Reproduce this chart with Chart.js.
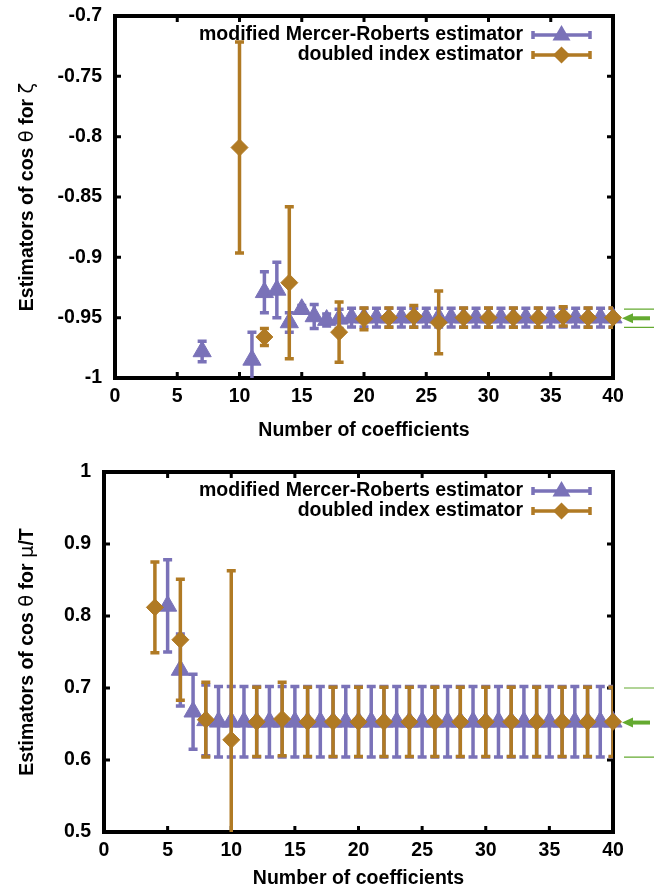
<!DOCTYPE html>
<html>
<head>
<meta charset="utf-8">
<script src="https://cdn.jsdelivr.net/npm/chart.js@4.4.1/dist/chart.umd.min.js"></script>
<style>
  body { margin: 0; background: #ffffff; }
  .panel { width: 654px; height: 445px; }
</style>
</head>
<body>
<div class="panel"><canvas id="zeta-chart" width="654" height="445"></canvas></div>
<div class="panel"><canvas id="mu-chart" width="654" height="445"></canvas></div>
<script>
// upper panel: estimators of cos(theta) for zeta
const zetaMrX = [7, 11, 12, 13, 14, 15, 16, 17, 18, 19, 20, 21, 22, 23, 24, 25, 26, 27, 28, 29, 30, 31, 32, 33, 34, 35, 36, 37, 38, 39, 40];
const zetaMrY = [-0.978, -0.985, -0.929, -0.927, -0.954, -0.943, -0.949, -0.952, -0.951, -0.950,
  -0.950, -0.950, -0.950, -0.950, -0.950, -0.950, -0.950, -0.950, -0.950, -0.950,
  -0.950, -0.950, -0.950, -0.950, -0.950, -0.950, -0.950, -0.950, -0.950, -0.950, -0.950];
const zetaMrErr = [0.0085, 0.023, 0.017, 0.023, 0.008, 0.003, 0.010, 0.005, 0.008, 0.0078,
  0.0078, 0.0078, 0.0078, 0.0078, 0.0078, 0.0078, 0.0078, 0.0078, 0.0078, 0.0078,
  0.0078, 0.0078, 0.0078, 0.0078, 0.0078, 0.0078, 0.0078, 0.0078, 0.0078, 0.0078, 0.0078];
const zetaDiX = [10, 12, 14, 18, 20, 22, 24, 26, 28, 30, 32, 34, 36, 38, 40];
const zetaDiY = [-0.809, -0.966, -0.921, -0.962, -0.951, -0.950, -0.949, -0.954, -0.950, -0.950, -0.950, -0.950, -0.949, -0.950, -0.950];
const zetaDiErr = [0.0875, 0.007, 0.063, 0.025, 0.009, 0.008, 0.009, 0.026, 0.008, 0.008, 0.008, 0.008, 0.008, 0.008, 0.008];
const zetaRef = [-0.958, -0.9505, -0.943]; // low, value, high
const zetaYTicks = [-1, -0.95, -0.9, -0.85, -0.8, -0.75, -0.7];
const zetaYLabels = ["-1", "-0.95", "-0.9", "-0.85", "-0.8", "-0.75", "-0.7"];
const zetaYTitle = [["Estimators of cos ", true], ["\u03b8", false], [" for ", true], ["\u03b6", false]];

// lower panel: estimators of cos(theta) for mu/T
const muMrX = [5, 6, 7, 8, 9, 10, 11, 12, 13, 14, 15, 16, 17, 18, 19, 20, 21, 22, 23, 24, 25, 26, 27, 28, 29, 30, 31, 32, 33, 34, 35, 36, 37, 38, 39, 40];
const muMrY = [0.814, 0.725, 0.667, 0.655, 0.653, 0.653, 0.653, 0.653, 0.653, 0.653, 0.653, 0.653,
  0.653, 0.653, 0.653, 0.653, 0.653, 0.653, 0.653, 0.653, 0.653, 0.653, 0.653, 0.653,
  0.653, 0.653, 0.653, 0.653, 0.653, 0.653, 0.653, 0.653, 0.653, 0.653, 0.653, 0.653];
const muMrErr = [0.064, 0.050, 0.052, 0.049, 0.049, 0.049, 0.049, 0.049, 0.049, 0.049, 0.049, 0.049,
  0.049, 0.049, 0.049, 0.049, 0.049, 0.049, 0.049, 0.049, 0.049, 0.049, 0.049, 0.049,
  0.049, 0.049, 0.049, 0.049, 0.049, 0.049, 0.049, 0.049, 0.049, 0.049, 0.049, 0.049];
const muDiX = [4, 6, 8, 10, 12, 14, 16, 18, 20, 22, 24, 26, 28, 30, 32, 34, 36, 38, 40];
const muDiY = [0.812, 0.767, 0.656, 0.628, 0.653, 0.657, 0.653, 0.653, 0.653, 0.653, 0.653, 0.653, 0.653, 0.653, 0.653, 0.653, 0.653, 0.653, 0.653];
const muDiErr = [0.063, 0.084, 0.052, 0.235, 0.048, 0.051, 0.048, 0.048, 0.048, 0.048, 0.048, 0.048, 0.048, 0.048, 0.048, 0.048, 0.048, 0.048, 0.048];
const muRef = [0.604, 0.652, 0.700];
const muYTicks = [0.5, 0.6, 0.7, 0.8, 0.9, 1];
const muYLabels = ["0.5", "0.6", "0.7", "0.8", "0.9", "1"];
const muYTitle = [["Estimators of cos ", true], ["\u03b8", false], [" for ", true], ["\u03bc", false], ["/T", true]];

const xTickLabels = ["0", "5", "10", "15", "20", "25", "30", "35", "40"];
const xTitle = "Number of coefficients";
const seriesLabels = ["modified Mercer-Roberts estimator", "doubled index estimator"];

(() => {
  const look = {
    blue: "#7a72b8",
    orange: "#b07a24",
    green: "#64aa30",
    font: "'Liberation Sans', Arial, sans-serif",
    greekFont: "'DejaVu Sans', sans-serif",
    size: 19.5
  };

  function toPoints(xs, ys) {
    return xs.map((x, i) => ({ x: x, y: ys[i] }));
  }

  function clipToArea(ctx, area) {
    ctx.beginPath();
    ctx.rect(area.left, area.top, area.right - area.left, area.bottom - area.top);
    ctx.clip();
  }

  // vertical error bars with small caps, drawn just under each dataset's markers
  const errorBars = {
    id: "errorBars",
    beforeDatasetDraw(chart, args) {
      const ds = chart.data.datasets[args.index];
      const { ctx, chartArea } = chart;
      const yScale = chart.scales.y;
      ctx.save();
      clipToArea(ctx, chartArea);
      ctx.strokeStyle = ds.borderColor;
      ctx.lineWidth = 3.5;
      args.meta.data.forEach((pt, i) => {
        const v = ds.data[i].y;
        const e = ds.errors[i];
        const yTop = yScale.getPixelForValue(v + e);
        const yBot = yScale.getPixelForValue(v - e);
        ctx.beginPath();
        ctx.moveTo(pt.x, yTop);
        ctx.lineTo(pt.x, yBot);
        ctx.moveTo(pt.x - 4.5, yTop);
        ctx.lineTo(pt.x + 4.5, yTop);
        ctx.moveTo(pt.x - 4.5, yBot);
        ctx.lineTo(pt.x + 4.5, yBot);
        ctx.stroke();
      });
      ctx.restore();
    }
  };

  // heavy frame with inward ticks on all four sides
  const frame = {
    id: "frame",
    beforeDatasetsDraw(chart) {
      const { ctx, chartArea: a } = chart;
      const xs = chart.scales.x;
      const ys = chart.scales.y;
      ctx.save();
      ctx.strokeStyle = "#000";
      ctx.lineWidth = 3;
      ctx.beginPath();
      xs.ticks.forEach((t) => {
        const px = xs.getPixelForValue(t.value);
        ctx.moveTo(px, a.bottom);
        ctx.lineTo(px, a.bottom - 6);
        ctx.moveTo(px, a.top);
        ctx.lineTo(px, a.top + 6);
      });
      ys.ticks.forEach((t) => {
        const py = ys.getPixelForValue(t.value);
        ctx.moveTo(a.left, py);
        ctx.lineTo(a.left + 6, py);
        ctx.moveTo(a.right, py);
        ctx.lineTo(a.right - 6, py);
      });
      ctx.stroke();
      ctx.lineWidth = 4;
      ctx.strokeRect(a.left, a.top, a.right - a.left, a.bottom - a.top);
      ctx.restore();
    }
  };

  // rotated y title, greek letters in a thinner face
  const yTitleText = {
    id: "yTitleText",
    afterDraw(chart) {
      const parts = chart.options.plugins.yTitleText.parts;
      const { ctx, chartArea: a } = chart;
      ctx.save();
      const fontFor = (bold) => bold
        ? `bold ${look.size}px ${look.font}`
        : `${look.size}px ${look.greekFont}`;
      let total = 0;
      parts.forEach(([t, bold]) => {
        ctx.font = fontFor(bold);
        total += ctx.measureText(t).width;
      });
      ctx.translate(28, (a.top + a.bottom) / 2);
      ctx.rotate(-Math.PI / 2);
      ctx.fillStyle = "#000";
      ctx.textBaseline = "middle";
      ctx.textAlign = "left";
      let x = -total / 2;
      parts.forEach(([t, bold]) => {
        ctx.font = fontFor(bold);
        ctx.fillText(t, x, 0);
        x += ctx.measureText(t).width;
      });
      ctx.restore();
    }
  };

  function drawMarker(ctx, style, x, y, color) {
    ctx.fillStyle = color;
    ctx.beginPath();
    if (style === "triangle") {
      ctx.moveTo(x, y - 10);
      ctx.lineTo(x + 9, y + 5.5);
      ctx.lineTo(x - 9, y + 5.5);
    } else {
      ctx.moveTo(x, y - 8.5);
      ctx.lineTo(x + 8.5, y);
      ctx.lineTo(x, y + 8.5);
      ctx.lineTo(x - 8.5, y);
    }
    ctx.closePath();
    ctx.fill();
  }

  // key in the top right corner: text first, then a sample bar with its marker
  const keyBox = {
    id: "keyBox",
    afterDatasetsDraw(chart) {
      const { ctx, chartArea: a } = chart;
      ctx.save();
      ctx.font = `bold ${look.size}px ${look.font}`;
      ctx.textAlign = "right";
      ctx.textBaseline = "middle";
      chart.data.datasets.forEach((ds, i) => {
        const y = a.top + 19 + i * 20;
        const x0 = a.right - 80;
        const x1 = a.right - 23;
        ctx.fillStyle = "#000";
        ctx.fillText(ds.label, a.right - 90, y);
        ctx.strokeStyle = ds.borderColor;
        ctx.lineWidth = 3.5;
        ctx.beginPath();
        ctx.moveTo(x0, y);
        ctx.lineTo(x1, y);
        ctx.moveTo(x0, y - 4);
        ctx.lineTo(x0, y + 4);
        ctx.moveTo(x1, y - 4);
        ctx.lineTo(x1, y + 4);
        ctx.stroke();
        drawMarker(ctx, ds.pointStyle, (x0 + x1) / 2, y, ds.borderColor);
      });
      ctx.restore();
    }
  };

  // green arrow and bounds outside the right edge
  const refMark = {
    id: "refMark",
    afterDraw(chart) {
      const ref = chart.options.plugins.refMark.values;
      const { ctx, chartArea: a, width } = chart;
      const ys = chart.scales.y;
      const yLow = ys.getPixelForValue(ref[0]);
      const yMid = ys.getPixelForValue(ref[1]);
      const yHigh = ys.getPixelForValue(ref[2]);
      ctx.save();
      ctx.strokeStyle = look.green;
      ctx.lineWidth = 1.2;
      ctx.beginPath();
      ctx.moveTo(a.right + 11, yLow);
      ctx.lineTo(width, yLow);
      ctx.moveTo(a.right + 11, yHigh);
      ctx.lineTo(width, yHigh);
      ctx.stroke();
      ctx.lineWidth = 4;
      ctx.beginPath();
      ctx.moveTo(a.right + 18, yMid);
      ctx.lineTo(width - 4, yMid);
      ctx.stroke();
      ctx.fillStyle = look.green;
      ctx.beginPath();
      ctx.moveTo(a.right + 9, yMid);
      ctx.lineTo(a.right + 20, yMid - 5);
      ctx.lineTo(a.right + 20, yMid + 5);
      ctx.closePath();
      ctx.fill();
      ctx.restore();
    }
  };

  function makePanel(canvasId, opts) {
    const font = { family: look.font, size: look.size, weight: "bold" };
    return new Chart(document.getElementById(canvasId), {
      type: "scatter",
      data: {
        datasets: [
          {
            label: seriesLabels[0],
            data: toPoints(opts.mrX, opts.mrY),
            errors: opts.mrErr,
            pointStyle: "triangle",
            pointRadius: 10.5,
            backgroundColor: look.blue,
            borderColor: look.blue,
            borderWidth: 1,
            order: 2,
            clip: false
          },
          {
            label: seriesLabels[1],
            data: toPoints(opts.diX, opts.diY),
            errors: opts.diErr,
            pointStyle: "rectRot",
            pointRadius: 8.5,
            backgroundColor: look.orange,
            borderColor: look.orange,
            borderWidth: 1,
            order: 1,
            clip: false
          }
        ]
      },
      options: {
        responsive: false,
        animation: false,
        events: [],
        layout: { padding: { left: 0, right: 41, top: opts.top, bottom: 0 } },
        plugins: {
          legend: { display: false },
          tooltip: { enabled: false },
          refMark: { values: opts.ref },
          yTitleText: { parts: opts.yTitle }
        },
        scales: {
          x: {
            type: "linear",
            min: 0,
            max: 40,
            grid: { display: false, drawTicks: false },
            border: { display: false },
            ticks: {
              stepSize: 5,
              padding: 7,
              color: "#000",
              font: font,
              maxRotation: 0,
              callback: (v, i) => xTickLabels[i]
            },
            title: {
              display: true,
              text: xTitle,
              color: "#000",
              font: font,
              padding: { top: 0, bottom: opts.xTitlePad }
            },
            afterFit: (scale) => {
              scale.height = opts.xHeight;
              scale.paddingLeft = 0;
              scale.paddingRight = 0;
            }
          },
          y: {
            type: "linear",
            min: opts.yTicks[0],
            max: opts.yTicks[opts.yTicks.length - 1],
            grid: { display: false, drawTicks: false },
            border: { display: false },
            afterBuildTicks: (scale) => {
              scale.ticks = opts.yTicks.map((v) => ({ value: v }));
            },
            ticks: {
              padding: 13,
              color: "#000",
              font: font,
              callback: (v, i) => opts.yLabels[i]
            },
            afterFit: (scale) => {
              scale.width = opts.yWidth;
              scale.paddingTop = 0;
              scale.paddingBottom = 0;
            }
          }
        }
      },
      plugins: [frame, errorBars, keyBox, refMark, yTitleText]
    });
  }

  makePanel("zeta-chart", {
    mrX: zetaMrX, mrY: zetaMrY, mrErr: zetaMrErr,
    diX: zetaDiX, diY: zetaDiY, diErr: zetaDiErr,
    ref: zetaRef,
    yTicks: zetaYTicks, yLabels: zetaYLabels, yTitle: zetaYTitle,
    top: 16, yWidth: 115, xHeight: 67, xTitlePad: 3
  });

  makePanel("mu-chart", {
    mrX: muMrX, mrY: muMrY, mrErr: muMrErr,
    diX: muDiX, diY: muDiY, diErr: muDiErr,
    ref: muRef,
    yTicks: muYTicks, yLabels: muYLabels, yTitle: muYTitle,
    top: 27, yWidth: 104, xHeight: 58, xTitlePad: 0
  });
})();
</script>
</body>
</html>
